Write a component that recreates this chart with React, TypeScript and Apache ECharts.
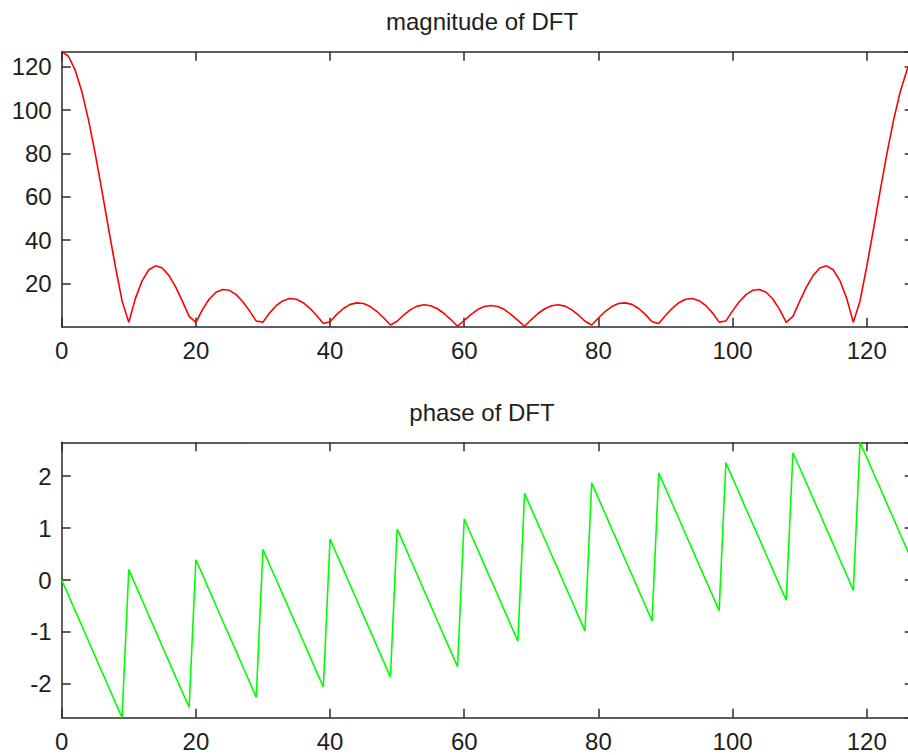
import React, { useEffect, useRef } from "react";
import * as echarts from "echarts";

const bins: number[] = Array.from({ length: 128 }, (_, i) => i);

const magnitude: number[] = [
  127.0, 124.9, 118.6, 108.6, 95.4, 79.8, 62.7, 45.0, 27.8, 11.9,
  2.0, 13.2, 21.3, 26.3, 28.1, 27.1, 23.6, 18.3, 11.7, 4.8,
  2.0, 8.0, 12.8, 15.9, 17.2, 16.8, 14.8, 11.5, 7.3, 2.6,
  2.1, 6.4, 9.8, 12.0, 13.0, 12.7, 11.1, 8.5, 5.2, 1.5,
  2.3, 5.7, 8.4, 10.3, 11.0, 10.7, 9.3, 7.0, 4.0, 0.8,
  2.5, 5.5, 7.9, 9.5, 10.1, 9.7, 8.3, 6.1, 3.3, 0.2,
  2.9, 5.6, 7.9, 9.3, 9.8,
  9.3, 7.9, 5.6, 2.9, 0.2, 3.3, 6.1, 8.3, 9.7, 10.1,
  9.5, 7.9, 5.5, 2.5, 0.8, 4.0, 7.0, 9.3, 10.7, 11.0,
  10.3, 8.4, 5.7, 2.3, 1.5, 5.2, 8.5, 11.1, 12.7, 13.0,
  12.0, 9.8, 6.4, 2.1, 2.6, 7.3, 11.5, 14.8, 16.8, 17.2,
  15.9, 12.8, 8.0, 2.0, 4.8, 11.7, 18.3, 23.6, 27.1, 28.1,
  26.3, 21.3, 13.2, 2.0, 11.9, 27.8, 45.0, 62.7, 79.8, 95.4,
  108.6, 118.6, 124.9,
];

const phase: number[] = [
  0, -0.29, -0.59, -0.88, -1.18, -1.47, -1.77, -2.06, -2.36, -2.65,
  0.2, -0.1, -0.39, -0.69, -0.98, -1.28, -1.57, -1.87, -2.16, -2.45,
  0.39, 0.1, -0.2, -0.49, -0.79, -1.08, -1.37, -1.67, -1.96, -2.26,
  0.59, 0.29, 0, -0.29, -0.59, -0.88, -1.18, -1.47, -1.77, -2.06,
  0.79, 0.49, 0.2, -0.1, -0.39, -0.69, -0.98, -1.28, -1.57, -1.87,
  0.98, 0.69, 0.39, 0.1, -0.2, -0.49, -0.79, -1.08, -1.37, -1.67,
  1.18, 0.88, 0.59, 0.29, 0, -0.29, -0.59, -0.88, -1.18,
  1.67, 1.37, 1.08, 0.79, 0.49, 0.2, -0.1, -0.39, -0.69, -0.98,
  1.87, 1.57, 1.28, 0.98, 0.69, 0.39, 0.1, -0.2, -0.49, -0.79,
  2.06, 1.77, 1.47, 1.18, 0.88, 0.59, 0.29, 0, -0.29, -0.59,
  2.26, 1.96, 1.67, 1.37, 1.08, 0.79, 0.49, 0.2, -0.1, -0.39,
  2.45, 2.16, 1.87, 1.57, 1.28, 0.98, 0.69, 0.39, 0.1, -0.2,
  2.65, 2.36, 2.06, 1.77, 1.47, 1.18, 0.88, 0.59, 0.29,
];

const titles = ["magnitude of DFT", "phase of DFT"];
const xMax = 127;
const magRange = [0, 127];
const phaseRange = [-2.6507, 2.6507];

const FONT = "'Liberation Sans', Arial, Helvetica, sans-serif";
const AX = "#2a2a2a";
const TXT = "#1e1e1e";

export default function App() {
  const ref = useRef<HTMLDivElement>(null);

  useEffect(() => {
    if (!ref.current) return;
    const chart = echarts.init(ref.current, undefined, { renderer: "svg" });

    const lineStyle = { color: AX, width: 1.5 };
    const tick = { show: true, inside: true, length: 9, lineStyle };

    const xAxisFor = (g: number, pos: "bottom" | "top") => ({
      gridIndex: g,
      type: "value",
      position: pos,
      min: 0,
      max: xMax,
      interval: 20,
      axisLine: { show: true, onZero: false, lineStyle },
      axisTick: tick,
      axisLabel: {
        show: pos === "bottom",
        margin: 12,
        fontSize: 24,
        fontFamily: FONT,
        color: TXT,
        showMaxLabel: false,
      },
      splitLine: { show: false },
    });

    const yAxisFor = (g: number, pos: "left" | "right", range: number[], interval?: number) => ({
      gridIndex: g,
      type: "value",
      position: pos,
      min: range[0],
      max: range[1],
      ...(interval ? { interval } : { splitNumber: 5 }),
      axisLine: { show: true, onZero: false, lineStyle },
      axisTick: tick,
      axisLabel: {
        show: pos === "left",
        margin: 10,
        fontSize: 24,
        fontFamily: FONT,
        color: TXT,
        showMinLabel: false,
        showMaxLabel: false,
      },
      splitLine: { show: false },
    });

    chart.setOption({
      animation: false,
      backgroundColor: "#ffffff",
      title: [
        {
          text: titles[0],
          left: 482,
          top: 9,
          padding: 0,
          textAlign: "center",
          textStyle: { fontSize: 24, fontWeight: "normal", fontFamily: FONT, color: TXT },
        },
        {
          text: titles[1],
          left: 482,
          top: 400,
          padding: 0,
          textAlign: "center",
          textStyle: { fontSize: 24, fontWeight: "normal", fontFamily: FONT, color: TXT },
        },
      ],
      grid: [
        { left: 61.7, width: 852, top: 51.7, height: 275, outerBoundsMode: "none", containLabel: false },
        { left: 61.7, width: 852, top: 442.3, height: 275.4, outerBoundsMode: "none", containLabel: false },
      ],
      xAxis: [
        xAxisFor(0, "bottom"),
        xAxisFor(0, "top"),
        xAxisFor(1, "bottom"),
        xAxisFor(1, "top"),
      ],
      yAxis: [
        yAxisFor(0, "left", magRange, 20),
        yAxisFor(0, "right", magRange, 20),
        yAxisFor(1, "left", phaseRange),
        yAxisFor(1, "right", phaseRange),
      ],
      series: [
        {
          type: "line",
          xAxisIndex: 0,
          yAxisIndex: 0,
          data: bins.map((k, i) => [k, magnitude[i]]),
          showSymbol: false,
          symbol: "none",
          lineStyle: { color: "#ff0000", width: 1.6 },
        },
        {
          type: "line",
          xAxisIndex: 2,
          yAxisIndex: 2,
          data: bins.map((k, i) => [k, phase[i]]),
          showSymbol: false,
          symbol: "none",
          lineStyle: { color: "#00ff00", width: 1.6 },
        },
      ],
    });

    return () => chart.dispose();
  }, []);

  return (
    <div
      style={{
        position: "absolute",
        left: 0,
        top: 0,
        width: 908,
        height: 755,
        overflow: "hidden",
        background: "#fff",
      }}
    >
      <div ref={ref} style={{ width: 924, height: 755 }} />
    </div>
  );
}
